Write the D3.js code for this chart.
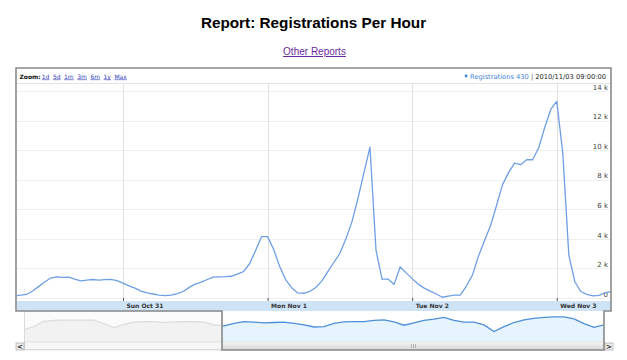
<!DOCTYPE html>
<html>
<head>
<meta charset="utf-8">
<script src="https://cdn.jsdelivr.net/npm/d3@7"></script>
<style>
  html, body { margin: 0; padding: 0; background: #fff; }
  svg { display: block; }
</style>
</head>
<body>
<svg id="chart" width="627" height="360"></svg>
<script>
// ---------------- DATA ----------------
const chartTitle = "Report: Registrations Per Hour";
const linkText = "Other Reports";
const zoomLinks = ["1d", "5d", "1m", "3m", "6m", "1y", "Max"];
const seriesName = "Registrations";
const lastValue = 430;
const lastStamp = "2010/11/03 09:00:00";

// hourly registrations, starting 2010-10-30 06:00
const startHour = "2010-10-30T06:00:00";
const registrations = [
  150, 190, 240, 470, 770, 1080, 1350, 1430, 1390, 1410, 1280, 1160, 1210, 1250, 1210, 1240, 1260, 1180,
  1010, 820, 670, 470, 340, 270, 200, 160, 190, 300, 440, 720, 940, 1080, 1250, 1410, 1430, 1440, 1470, 1620,
  1780, 2300, 3200, 4150, 4150, 3300, 2150, 1250, 700, 340, 320, 440, 710, 1140, 1780, 2400, 3010, 4000,
  5150, 6730, 8480, 10200, 3230, 1280, 1280, 920, 2100, 1700, 1310, 940, 670, 470, 270, 50, 130, 190,
  200, 810, 1550, 2830, 3870, 4880, 6260, 7670, 8480, 9120, 9020, 9350, 9350, 10160, 11530, 12750, 13300,
  9800, 2900, 1100, 440, 240, 150, 180, 350, 430
];
const viewStart = "2010-10-30T06:25:00";
const viewEnd = "2010-11-03T09:00:00";
const yTicks = [0, 2000, 4000, 6000, 8000, 10000, 12000, 14000];
const dayTicks = ["2010-10-31", "2010-11-01", "2010-11-02", "2010-11-03"];

// navigator overview (relative level, 0-100), evenly spaced samples
const navigatorValues = [
  40, 52, 69, 72, 73, 73, 73, 73, 61, 48, 59, 66, 68, 68, 65, 67, 68, 68, 66, 57,
  54, 62, 68, 66, 64, 65, 66, 62, 57, 50, 51, 62, 67, 68, 68, 72, 74, 67, 56, 64,
  72, 76, 82, 72, 66, 66, 57, 35, 51, 65, 74, 79, 82, 84, 84, 77, 61, 49, 57
];
const navigatorSelectedFrom = 19.8; // sample index where the selected window begins

// ---------------- LAYOUT ----------------
const svg = d3.select("#chart");
const F = { x0: 16, x1: 611, y0: 68, y1: 311, header: 83 };
const P = { x0: 17, x1: 611, y0: 84, y1: 300 };
const N = { x0: 24, x1: 604, y0: 311, y1: 342, bottom: 350 };
const fontSans = "'Liberation Sans', Arial, sans-serif";
const fontSmall = "'DejaVu Sans', Verdana, sans-serif";

// title & link
svg.append("text")
  .attr("x", 313.5).attr("y", 28)
  .attr("text-anchor", "middle")
  .style("font-family", fontSans).style("font-size", "15.3px").style("font-weight", "bold")
  .attr("fill", "#000").text(chartTitle);

svg.append("text")
  .attr("x", 314.5).attr("y", 55)
  .attr("text-anchor", "middle")
  .style("font-family", fontSans).style("font-size", "10px")
  .style("text-decoration", "underline")
  .attr("fill", "#6b2a9c").text(linkText);

// ---------------- SCALES ----------------
const parse = d3.isoParse;
const t0 = parse(startHour);
const data = registrations.map((v, i) => ({ t: d3.timeHour.offset(t0, i), v }));

const x = d3.scaleTime().domain([parse(viewStart), parse(viewEnd)]).range([P.x0, P.x1]);
const y = d3.scaleLinear().domain([0, 14000]).range([298, 91]);

// plot background
svg.append("rect").attr("x", P.x0).attr("y", P.y0).attr("width", P.x1 - P.x0).attr("height", P.y1 - P.y0).attr("fill", "#fff");

// horizontal grid
svg.append("g").selectAll("line").data(yTicks).join("line")
  .attr("x1", P.x0).attr("x2", P.x1)
  .attr("y1", d => Math.round(y(d)) + 0.5).attr("y2", d => Math.round(y(d)) + 0.5)
  .attr("stroke", "#efefef").attr("stroke-width", 1);

// vertical grid
const dayDates = dayTicks.map(d => d3.timeParse("%Y-%m-%d")(d));
svg.append("g").selectAll("line").data(dayDates).join("line")
  .attr("x1", d => Math.round(x(d)) + 0.5).attr("x2", d => Math.round(x(d)) + 0.5)
  .attr("y1", P.y0).attr("y2", P.y1)
  .attr("stroke", "#e0e0e0").attr("stroke-width", 1);

// x band
svg.append("rect").attr("x", P.x0).attr("y", 301).attr("width", P.x1 - P.x0).attr("height", 10)
  .attr("fill", "#cfe3f7");

// x axis
const xAxis = d3.axisBottom(x).tickValues(dayDates).tickSize(3).tickFormat(d3.timeFormat("%a %b %-d"));
const gx = svg.append("g").attr("transform", `translate(0,${298})`).call(xAxis);
gx.select(".domain").remove();
gx.selectAll(".tick line").attr("stroke", "#555");
gx.selectAll(".tick text")
  .attr("text-anchor", "start").attr("x", 3).attr("y", 6).attr("dy", "0.71em")
  .style("font-family", fontSmall).style("font-size", "6px").style("font-weight", "bold")
  .attr("fill", "#333");

// y axis (right, inside)
const yAxis = d3.axisLeft(y).tickValues(yTicks).tickSize(0)
  .tickFormat(d => d === 0 ? "0" : (d / 1000) + " k");
const gy = svg.append("g").attr("transform", `translate(${608},0)`).call(yAxis);
gy.select(".domain").remove();
gy.selectAll(".tick text")
  .attr("x", 0).attr("dy", "-0.25em")
  .style("font-family", fontSmall).style("font-size", "7px")
  .attr("fill", "#444");

// line
svg.append("clipPath").attr("id", "plotClip").append("rect")
  .attr("x", P.x0).attr("y", P.y0).attr("width", P.x1 - P.x0 + 2).attr("height", P.y1 - P.y0);
svg.append("path").datum(data)
  .attr("clip-path", "url(#plotClip)")
  .attr("fill", "none").attr("stroke", "#6e9fe5").attr("stroke-width", 1.3)
  .attr("stroke-linejoin", "round")
  .attr("d", d3.line().x(d => x(d.t)).y(d => y(d.v)));

// header
svg.append("rect").attr("x", F.x0).attr("y", F.y0).attr("width", F.x1 - F.x0).attr("height", F.header - F.y0)
  .attr("fill", "#fff");
svg.append("line").attr("x1", F.x0).attr("x2", F.x1).attr("y1", F.header + 0.5).attr("y2", F.header + 0.5)
  .attr("stroke", "#e4e4e4");

const hdr = svg.append("text").attr("x", 19.5).attr("y", 78.5)
  .style("font-family", fontSmall).style("font-size", "6px");
hdr.append("tspan").style("font-weight", "bold").attr("fill", "#111").text("Zoom:");
zoomLinks.forEach((z, i) => {
  hdr.append("tspan").attr("dx", i === 0 ? 1 : 3.5).attr("fill", "#3340c0")
    .style("text-decoration", "underline").text(z);
});

const rhdr = svg.append("text").attr("x", 606).attr("y", 78.5).attr("text-anchor", "end")
  .style("font-family", fontSmall).style("font-size", "6.7px");
rhdr.append("tspan").attr("fill", "#3f7fd8").text(seriesName + " " + lastValue);
rhdr.append("tspan").attr("fill", "#666").text(" | ");
rhdr.append("tspan").attr("fill", "#222").text(lastStamp);
const rw = rhdr.node().getComputedTextLength();
svg.append("circle").attr("cx", 606 - rw - 4).attr("cy", 76).attr("r", 1.4).attr("fill", "#3f7fd8");

// ---------------- NAVIGATOR ----------------
const nx = d3.scaleLinear().domain([0, navigatorValues.length - 1]).range([N.x0, N.x1]);
const ny = d3.scaleLinear().domain([0, 100]).range([N.y1, N.y0 + 1]);
const selX = nx(navigatorSelectedFrom);

svg.append("clipPath").attr("id", "navLeft").append("rect")
  .attr("x", N.x0).attr("y", N.y0).attr("width", selX - N.x0).attr("height", N.y1 - N.y0);
svg.append("clipPath").attr("id", "navRight").append("rect")
  .attr("x", selX).attr("y", N.y0).attr("width", N.x1 - selX).attr("height", N.y1 - N.y0);

const navArea = d3.area().x((d, i) => nx(i)).y0(N.y1).y1(d => ny(d));
const navLine = d3.line().x((d, i) => nx(i)).y(d => ny(d));

// unselected (greyed) part
svg.append("rect").attr("x", N.x0).attr("y", N.y0).attr("width", selX - N.x0).attr("height", N.y1 - N.y0)
  .attr("fill", "#fbfbfb");
svg.append("path").datum(navigatorValues).attr("clip-path", "url(#navLeft)")
  .attr("fill", "#f2f2f2").attr("d", navArea);
svg.append("path").datum(navigatorValues).attr("clip-path", "url(#navLeft)")
  .attr("fill", "none").attr("stroke", "#dcdcdc").attr("stroke-width", 1.2).attr("d", navLine);

// selected part
svg.append("path").datum(navigatorValues).attr("clip-path", "url(#navRight)")
  .attr("fill", "#e6f4fd").attr("d", navArea);
svg.append("path").datum(navigatorValues).attr("clip-path", "url(#navRight)")
  .attr("fill", "none").attr("stroke", "#4d8fd8").attr("stroke-width", 1.3).attr("d", navLine);

// scrollbar
const grad = svg.append("defs").append("linearGradient").attr("id", "sbg")
  .attr("x1", 0).attr("x2", 0).attr("y1", 0).attr("y2", 1);
grad.append("stop").attr("offset", "0%").attr("stop-color", "#f4f4f4");
grad.append("stop").attr("offset", "100%").attr("stop-color", "#d6d6d6");
svg.append("rect").attr("x", N.x0).attr("y", N.y1).attr("width", N.x1 - N.x0).attr("height", N.bottom - N.y1)
  .attr("fill", "#f7f7f7").attr("stroke", "#dddddd").attr("stroke-width", 0.8);
svg.append("rect").attr("x", selX).attr("y", N.y1).attr("width", N.x1 - selX).attr("height", N.bottom - N.y1)
  .attr("fill", "url(#sbg)");
const gripX = (selX + N.x1) / 2;
[-2, 0, 2].forEach(o => {
  svg.append("line").attr("x1", gripX + o + 0.5).attr("x2", gripX + o + 0.5).attr("y1", 344).attr("y2", 348)
    .attr("stroke", "#aaa").attr("stroke-width", 0.8);
});
// mask outline
svg.append("rect").attr("x", N.x0 + 0.5).attr("y", N.y0).attr("width", selX - N.x0).attr("height", N.bottom - N.y0 - 0.5)
  .attr("fill", "none").attr("stroke", "#d4d4d4").attr("stroke-width", 0.8);

// scroll buttons
function button(bx, label) {
  svg.append("rect").attr("x", bx).attr("y", 343).attr("width", 8).attr("height", 7)
    .attr("fill", "#eee").attr("stroke", "#999").attr("stroke-width", 0.6);
  svg.append("text").attr("x", bx + 4).attr("y", 349).attr("text-anchor", "middle")
    .style("font-family", fontSmall).style("font-size", "7px").style("font-weight", "bold")
    .attr("fill", "#222").text(label);
}
button(16, "<");
button(605, ">");

// frame outline (tab shape around selected navigator window)
const fp = d3.path();
fp.moveTo(F.x1, F.y0);
fp.lineTo(F.x0, F.y0);
fp.lineTo(F.x0, F.y1);
fp.lineTo(selX, F.y1);
fp.lineTo(selX, N.bottom);
fp.lineTo(N.x1, N.bottom);
fp.lineTo(N.x1, F.y1);
fp.lineTo(F.x1, F.y1);
fp.closePath();
svg.append("path").attr("d", fp.toString()).attr("fill", "none")
  .attr("stroke", "#8a8a8a").attr("stroke-width", 1.6);
</script>
</body>
</html>
